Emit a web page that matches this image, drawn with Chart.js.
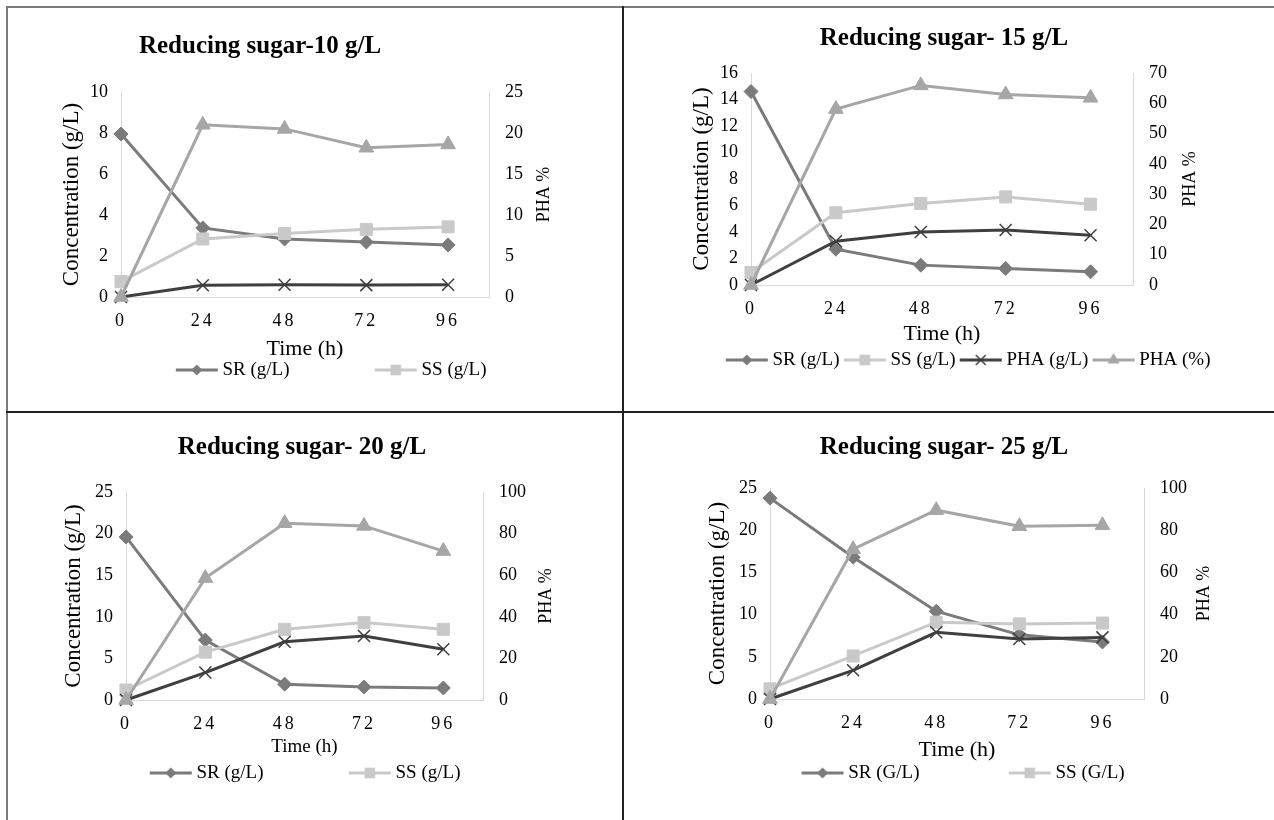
<!DOCTYPE html>
<html><head><meta charset="utf-8">
<script src="https://cdn.jsdelivr.net/npm/chart.js@4.4.1/dist/chart.umd.min.js"></script>
<style>
html,body{margin:0;padding:0;background:#fff;}
body{width:1274px;height:820px;position:relative;overflow:hidden;}
canvas{position:absolute;}
.ln{position:absolute;}
</style></head><body>
<canvas id="c1" style="left:8px;top:8px"></canvas>
<canvas id="c2" style="left:624px;top:8px"></canvas>
<canvas id="c3" style="left:8px;top:413px"></canvas>
<canvas id="c4" style="left:624px;top:413px"></canvas>
<div class="ln" style="left:6px;top:6px;width:1268px;height:2px;background:#7a7a7a"></div>
<div class="ln" style="left:6px;top:6px;width:2px;height:814px;background:#7a7a7a"></div>
<div class="ln" style="left:622px;top:6px;width:2px;height:814px;background:#222"></div>
<div class="ln" style="left:6px;top:411px;width:1268px;height:2px;background:#222"></div>
<script>
// ---------- data ----------
const times = [0, 24, 48, 72, 96];
const timeLabels = ['0', '24', '48', '72', '96'];

const sr10 = [7.95, 3.37, 2.83, 2.68, 2.54];
const ss10 = [0.75, 2.83, 3.1, 3.3, 3.42];
const phaG10 = [0, 0.57, 0.6, 0.58, 0.6];
const phaP10 = [0, 21.0, 20.5, 18.2, 18.6];

const sr15 = [14.6, 2.7, 1.5, 1.25, 1.0];
const ss15 = [0.95, 5.45, 6.15, 6.65, 6.1];
const phaG15 = [0, 3.3, 4.0, 4.15, 3.75];
const phaP15 = [0, 58.1, 65.9, 62.9, 61.8];

const sr20 = [19.6, 7.2, 1.9, 1.55, 1.45];
const ss20 = [1.2, 5.75, 8.5, 9.3, 8.5];
const phaG20 = [0, 3.3, 7.0, 7.7, 6.1];
const phaP20 = [0, 58.6, 85.0, 83.7, 71.6];

const sr25 = [23.8, 16.8, 10.4, 7.6, 6.75];
const ss25 = [1.2, 5.1, 9.1, 8.9, 9.0];
const phaG25 = [0, 3.4, 7.9, 7.1, 7.3];
const phaP25 = [0, 71.0, 89.5, 81.9, 82.3];

const labelsLower = ['SR (g/L)', 'SS (g/L)', 'PHA (g/L)', 'PHA (%)'];
const labelsUpper = ['SR (G/L)', 'SS (G/L)', 'PHA (g/L)', 'PHA (%)'];

// ---------- styles ----------
const FAMILY = "'Liberation Serif', 'Times New Roman', Times, serif";
const COL_SR = '#7b7b7b', COL_SS = '#c9c9c9', COL_PG = '#3f3f3f', COL_PP = '#a6a6a6';
const AXIS_COL = '#d9d9d9';
const TXT = '#000';
const LEG_FONT = 19, LEG_PAD = 4;

function drawMarker(ctx, style, x, y, r, color) {
  ctx.fillStyle = color; ctx.strokeStyle = color; ctx.lineWidth = 1;
  ctx.beginPath();
  if (style === 'rectRot') {
    ctx.moveTo(x - r, y); ctx.lineTo(x, y - r); ctx.lineTo(x + r, y); ctx.lineTo(x, y + r); ctx.closePath(); ctx.fill();
  } else if (style === 'rect') {
    const s = r * Math.SQRT1_2; ctx.rect(x - s, y - s, 2 * s, 2 * s); ctx.fill();
  } else if (style === 'triangle') {
    for (let k = 0; k < 3; k++) {
      const a = k * 2 * Math.PI / 3;
      const px = x + Math.sin(a) * r, py = y - Math.cos(a) * r;
      if (k === 0) ctx.moveTo(px, py); else ctx.lineTo(px, py);
    }
    ctx.closePath(); ctx.fill();
  } else if (style === 'crossRot') {
    const s = r * Math.SQRT1_2; ctx.lineWidth = 1.5;
    ctx.moveTo(x - s, y - s); ctx.lineTo(x + s, y + s); ctx.moveTo(x + s, y - s); ctx.lineTo(x - s, y + s); ctx.stroke();
  }
}

function legendImage(style, color, bw, r) {
  const c = document.createElement('canvas');
  c.width = Math.round(bw + LEG_FONT); c.height = 20;
  const ctx = c.getContext('2d');
  const x2 = c.width - 5, x1 = x2 - 42, ym = 10;
  ctx.strokeStyle = color; ctx.lineWidth = 3;
  ctx.beginPath(); ctx.moveTo(x1, ym); ctx.lineTo(x2, ym); ctx.stroke();
  drawMarker(ctx, style, (x1 + x2) / 2, ym, r, color);
  return c;
}

const sideTitlePlugin = {
  id: 'sideTitle',
  afterDraw(chart, args, opts) {
    const ctx = chart.ctx, a = chart.chartArea;
    ctx.save();
    ctx.translate(opts.x, (a.top + a.bottom) / 2);
    ctx.rotate(-Math.PI / 2);
    ctx.font = opts.size + 'px ' + FAMILY;
    ctx.fillStyle = TXT; ctx.textAlign = 'center'; ctx.textBaseline = 'middle';
    ctx.fillText(opts.text, 0, 0);
    ctx.restore();
  }
};

const shiftPlugin = {
  id: 'shift',
  afterLayout(chart, args, opts) {
    if (chart.titleBlock) { chart.titleBlock.left += opts.title; chart.titleBlock.right += opts.title; }
    if (chart.legend) { chart.legend.left += opts.legend; chart.legend.right += opts.legend; }
  }
};

const spacingPlugin = {
  id: 'spacing',
  beforeDraw(chart, args, opts) {
    const s = chart.scales.x;
    if (s && !s._spaced) {
      const orig = s.drawLabels.bind(s);
      s.drawLabels = function (ca) {
        const c = this.ctx; const prev = c.letterSpacing;
        c.letterSpacing = opts.px + 'px';
        orig(ca);
        c.letterSpacing = prev || '0px';
      };
      s._spaced = true;
    }
  }
};

function ds(label, values, color, style, r, axis, order) {
  return {
    label, data: times.map((t, i) => ({x: t, y: values[i]})),
    borderColor: color, backgroundColor: color, borderWidth: 3,
    pointStyle: style, pointRadius: r, pointBorderWidth: style === 'crossRot' ? 1.5 : 1,
    pointBackgroundColor: color, pointBorderColor: color,
    yAxisID: axis, order, clip: false, tension: 0
  };
}

function makeChart(s) {
  const canvas = document.getElementById(s.id);
  canvas.width = s.cw; canvas.height = s.ch;
  const legendH = LEG_FONT + LEG_PAD + 10;
  const legendTop = s.legendY - LEG_PAD - LEG_FONT / 2;
  const tPadTop = s.titleY - 15;
  const imgs = [
    legendImage('rectRot', COL_SR, s.bw, 5.5),
    legendImage('rect', COL_SS, s.bw, 7.5),
    legendImage('crossRot', COL_PG, s.bw, 7),
    legendImage('triangle', COL_PP, s.bw, 7)
  ];
  const tickFont = {family: FAMILY, size: 18};
  const border = {display: true, color: AXIS_COL, width: 1};
  new Chart(canvas, {
    type: 'line',
    data: {datasets: [
      ds(s.labels[0], s.sr, COL_SR, 'rectRot', 7, 'y', 4),
      ds(s.labels[1], s.ss, COL_SS, 'rect', 8.5, 'y', 3),
      ds(s.labels[2], s.pg, COL_PG, 'crossRot', 8.5, 'y', 2),
      ds(s.labels[3], s.pp, COL_PP, 'triangle', 8.5, 'y2', 1)
    ]},
    options: {
      responsive: false, animation: false, events: [],
      layout: {padding: {left: 0, right: 0, top: 0, bottom: s.ch - legendTop - legendH}},
      scales: {
        x: {
          type: 'linear', min: 0, max: 108,
          afterBuildTicks: sc => { sc.ticks = times.map(v => ({value: v})); },
          ticks: {font: tickFont, color: TXT, padding: 13, maxRotation: 0, autoSkip: false,
                  callback: (v, i) => timeLabels[i]},
          grid: {display: false, drawTicks: false}, border,
          title: {display: true, text: 'Time (h)', color: TXT,
                  font: {family: FAMILY, size: s.timeFont},
                  padding: {top: 0, bottom: legendTop - s.timeY - 0.6 * s.timeFont}},
          afterFit: sc => { sc.height = legendTop - s.B; }
        },
        y: {
          position: 'left', min: 0, max: s.yMax,
          ticks: {stepSize: s.yStep, font: tickFont, color: TXT, padding: 13},
          grid: {display: false, drawTicks: false}, border,
          title: {display: true, text: 'Concentration (g/L)', color: TXT,
                  font: {family: FAMILY, size: 23}, padding: {top: s.concX - 13.8, bottom: 0}},
          afterFit: sc => { sc.width = s.L; }
        },
        y2: {
          position: 'right', min: 0, max: s.y2Max,
          ticks: {stepSize: s.y2Step, font: tickFont, color: TXT, padding: 16},
          grid: {display: false, drawTicks: false}, border,
          afterFit: sc => { sc.width = s.cw - s.R; }
        }
      },
      plugins: {
        title: {display: true, text: s.title, color: TXT,
                font: {family: FAMILY, size: 25, weight: 'bold'},
                padding: {top: tPadTop, bottom: s.T - 30 - tPadTop}},
        legend: {
          display: true, position: 'bottom',
          labels: {
            usePointStyle: true, pointStyleWidth: s.bw, boxHeight: LEG_FONT,
            padding: LEG_PAD, color: TXT, font: {family: FAMILY, size: LEG_FONT},
            generateLabels: chart => chart.data.datasets.slice(0, s.nLegend).map((d, i) => ({
              text: d.label, pointStyle: imgs[i], fillStyle: d.borderColor, strokeStyle: d.borderColor,
              lineWidth: 0, hidden: false, datasetIndex: i, fontColor: TXT
            }))
          }
        },
        tooltip: {enabled: false},
        sideTitle: {text: 'PHA %', x: s.phaX, size: 18},
        shift: {title: s.titleDX, legend: s.legendDX},
        spacing: {px: 3}
      }
    },
    plugins: [sideTitlePlugin, shiftPlugin, spacingPlugin]
  });
}

makeChart({id: 'c1', cw: 614, ch: 403, L: 113, R: 481, T: 84, B: 289,
  title: 'Reducing sugar-10 g/L', titleY: 39, titleDX: -55, timeY: 341, timeFont: 22,
  legendY: 362, legendDX: -24.5, bw: 118.5, nLegend: 2, concX: 64, phaX: 536,
  yMax: 10, yStep: 2, y2Max: 25, y2Step: 5, labels: labelsLower,
  sr: sr10, ss: ss10, pg: phaG10, pp: phaP10});
makeChart({id: 'c2', cw: 650, ch: 403, L: 127, R: 509, T: 65, B: 277,
  title: 'Reducing sugar- 15 g/L', titleY: 31, titleDX: -5, timeY: 326, timeFont: 22,
  legendY: 352, legendDX: 19, bw: 37.5, nLegend: 4, concX: 78, phaX: 566,
  yMax: 16, yStep: 2, y2Max: 70, y2Step: 10, labels: labelsLower,
  sr: sr15, ss: ss15, pg: phaG15, pp: phaP15});
makeChart({id: 'c3', cw: 614, ch: 407, L: 118, R: 475, T: 79, B: 287,
  title: 'Reducing sugar- 20 g/L', titleY: 35, titleDX: -13, timeY: 334, timeFont: 19,
  legendY: 360, legendDX: -50.5, bw: 118.5, nLegend: 2, concX: 66, phaX: 538,
  yMax: 25, yStep: 5, y2Max: 100, y2Step: 20, labels: labelsLower,
  sr: sr20, ss: ss20, pg: phaG20, pp: phaP20});
makeChart({id: 'c4', cw: 650, ch: 407, L: 146, R: 520, T: 75, B: 286,
  title: 'Reducing sugar- 25 g/L', titleY: 35, titleDX: -5, timeY: 337, timeFont: 22,
  legendY: 360, legendDX: -28.5, bw: 122.5, nLegend: 2, concX: 94, phaX: 580,
  yMax: 25, yStep: 5, y2Max: 100, y2Step: 20, labels: labelsUpper,
  sr: sr25, ss: ss25, pg: phaG25, pp: phaP25});
</script>
</body></html>
